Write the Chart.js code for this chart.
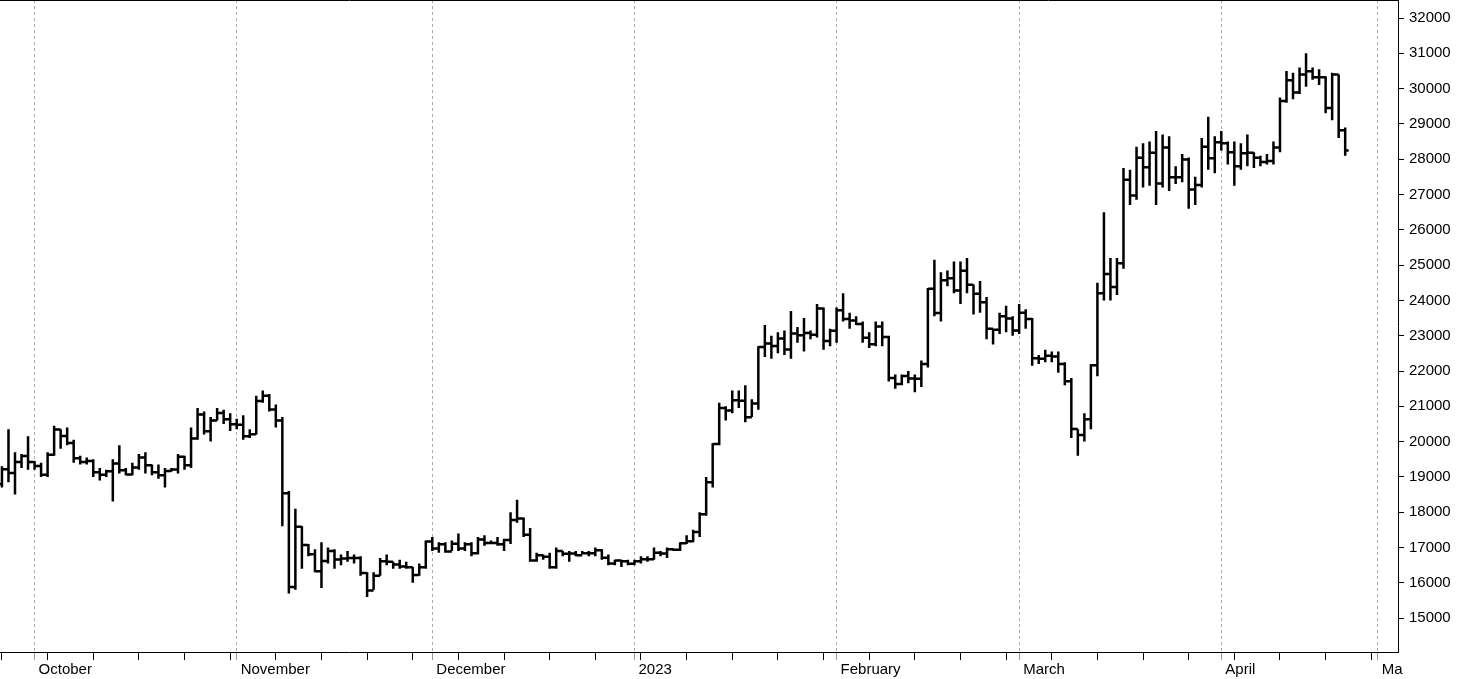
<!DOCTYPE html>
<html>
<head>
<meta charset="utf-8">
<script src="https://cdn.jsdelivr.net/npm/chart.js@4"></script>
<style>
  html, body { margin: 0; padding: 0; background: #fff; overflow: hidden; }
  #wrap { width: 1476px; height: 693px; margin-top: -14px; }
</style>
</head>
<body>
<div id="wrap"><canvas id="c"></canvas></div>
<script>
// daily bars, index 0 = 26 Sep 2022
const firstOpen = 18800;
const closes = [
  19220,19110,19420,19590,19420,
  19310,19060,19630,20340,20160,19960,19530,19420,19450,19130,19060,19160,19380,19190,19070,19270,19550,19330,19130,19050,19170,19210,19570,19330,20090,20770,20290,20600,20810,20630,20490,
  20480,20150,20210,21150,21300,20910,20600,18540,15880,17590,17070,16810,16330,16620,16900,16660,16690,16700,16700,16280,15780,16200,16610,16600,16520,16460,16440,16220,16440,17170,
  16970,17090,16890,17110,16970,17090,16840,17230,17130,17130,17090,17210,17780,17820,17360,16630,16780,16740,16440,16900,16820,16830,16780,16840,16840,16920,16710,16550,16630,16610,16540,
  16610,16670,16670,16850,16830,16950,16940,17120,17180,17440,17940,18850,19930,20950,20880,21170,21160,20690,21080,22680,22780,22710,22920,22610,23060,23010,23080,23030,23770,22850,23140,
  23720,23470,23430,23330,22940,22760,23260,22960,21800,21630,21860,21790,21780,22200,24330,23640,24570,24630,24280,24840,24440,24190,23950,23200,23170,23550,23490,23150,
  23650,23470,22360,22350,22430,22410,22200,21710,20360,20190,20630,22160,24200,24750,24380,25050,27420,26970,28040,27770,28180,27310,28330,27490,27490,27990,27140,27270,28350,28030,28480,
  28450,28200,27800,28170,28180,28040,27920,27950,28330,29650,30240,29890,30400,30490,30320,30320,29450,30400,28820,28250
];
const highs = [
  19300,20350,19700,19650,20150,
  19450,19400,19700,20450,20350,20400,20050,19600,19550,19500,19250,19200,19500,19900,19250,19400,19650,19700,19350,19350,19250,19250,19650,19600,20400,20950,20850,20700,20950,20900,20800,
  20650,20750,20350,21300,21450,21350,21050,20700,18600,18100,17600,17100,16950,17150,17000,16950,16800,16900,16800,16750,16300,16300,16700,16800,16600,16650,16600,16450,16550,17200,
  17300,17150,17150,17200,17400,17150,17150,17300,17350,17200,17300,17250,18000,18350,17850,17550,16850,16800,16850,17000,16900,16900,16900,16900,16900,17000,16950,16800,16650,16650,16650,
  16650,16750,16750,17000,16900,17000,16950,17150,17350,17500,18000,19000,19950,21100,21000,21450,21450,21600,21200,22700,23300,23000,23100,23150,23700,23250,23500,23150,23900,23800,23200,
  23800,24200,23650,23550,23400,23100,23400,23400,23000,21900,21900,22000,21900,22300,24350,25150,24800,24850,25100,25100,25200,24450,24550,24100,23200,23650,23850,23550,
  23900,23750,23500,22450,22600,22550,22550,22250,21800,20350,20800,22200,24500,26500,25200,25200,27750,27700,28350,28450,28500,28800,28700,28650,27800,28150,28050,27500,28600,29200,28650,
  28800,28500,28500,28450,28700,28200,28100,28150,28500,29750,30500,30450,30600,31000,30600,30550,30350,30450,30400,28900
];
const lows = [
  18700,18850,18500,19250,19200,
  19200,19000,19000,19600,19800,19900,19400,19350,19350,19000,18900,19000,18300,19100,19050,19050,19200,19100,19050,18950,18700,19150,19100,19200,19250,20050,20200,20000,20600,20500,20300,
  20350,20050,20100,20200,21100,20850,20400,17600,15700,15800,16400,16750,16300,15850,16550,16400,16500,16600,16550,16200,15600,15800,16200,16500,16400,16400,16400,16000,16200,16400,
  16900,16850,16850,16900,16900,16900,16750,16800,17050,17100,17050,16900,17100,17700,17300,16600,16600,16650,16400,16400,16750,16600,16750,16800,16750,16750,16650,16500,16500,16450,16500,
  16500,16550,16600,16650,16750,16700,16900,16900,17100,17150,17300,17900,18700,19900,20600,20800,20950,20550,20700,20900,22400,22350,22500,22450,22350,22800,22550,22900,22950,22600,22700,
  22800,23400,23200,23300,22800,22650,22700,22700,21700,21500,21600,21650,21400,21550,22100,23550,23400,24400,24200,23900,24200,23600,23650,22900,22750,23050,23100,23000,
  23050,23200,22150,22200,22250,22250,21950,21600,20100,19600,20000,20350,21850,24000,24000,24150,24900,26700,26850,27200,27250,26700,27200,27100,27300,27350,26600,26700,27200,27700,27600,
  28250,27850,27250,27700,27800,27750,27800,27850,27850,28200,29600,29700,29850,30050,30250,30100,29300,29100,28600,28100
];
const monthIdx = [5, 36, 66, 97, 128, 156, 187, 211];
const monthLabels = ['October', 'November', 'December', '2023', 'February', 'March', 'April', 'Ma'];
const yMin = 14040, yMax = 32510;

const opens = closes.map((c, i) => i === 0 ? firstOpen : closes[i - 1]);
const idx = closes.map((_, i) => i);

const ohlcPlugin = {
  id: 'ohlc',
  afterDatasetsDraw(chart) {
    const ctx = chart.ctx, x = chart.scales.x, y = chart.scales.y, a = chart.chartArea;
    ctx.save();
    ctx.beginPath(); ctx.rect(a.left, a.top, a.right - a.left, a.bottom - a.top); ctx.clip();
    ctx.strokeStyle = '#000';
    ctx.lineWidth = 2.5;
    ctx.lineCap = 'butt';
    idx.forEach(i => {
      const px = x.getPixelForValue(i);
      ctx.beginPath();
      ctx.moveTo(px, y.getPixelForValue(highs[i]));
      ctx.lineTo(px, y.getPixelForValue(lows[i]));
      ctx.moveTo(px - 3.5, y.getPixelForValue(opens[i]));
      ctx.lineTo(px, y.getPixelForValue(opens[i]));
      ctx.moveTo(px, y.getPixelForValue(closes[i]));
      ctx.lineTo(px + 3.5, y.getPixelForValue(closes[i]));
      ctx.stroke();
    });
    ctx.restore();
    // frame: top and bottom lines
    ctx.save();
    ctx.strokeStyle = '#000'; ctx.lineWidth = 1;
    ctx.beginPath();
    ctx.moveTo(a.left, a.top + 0.5); ctx.lineTo(a.right, a.top + 0.5);
    ctx.moveTo(a.left, a.bottom + 0.5); ctx.lineTo(a.right, a.bottom + 0.5);
    ctx.stroke();
    ctx.restore();
  }
};

new Chart(document.getElementById('c'), {
  type: 'line',
  data: {
    datasets: [{
      data: idx.map(i => ({ x: i, y: closes[i] })),
      borderColor: 'transparent',
      pointRadius: 0
    }]
  },
  options: {
    responsive: true,
    maintainAspectRatio: false,
    animation: false,
    layout: { padding: 0 },
    plugins: { legend: { display: false }, tooltip: { enabled: false } },
    scales: {
      x: {
        type: 'linear',
        min: -0.3,
        max: 214.1,
        afterFit: s => { s.height = 27; },
        afterBuildTicks: s => {
          const t = [];
          for (let i = 0; i < 215; i += 7) t.push({ value: i });
          monthIdx.forEach(m => t.push({ value: m }));
          t.sort((p, q) => p.value - q.value);
          s.ticks = t;
        },
        border: { display: false, dash: [3, 3] },
        grid: {
          color: c => monthIdx.includes(c.tick && c.tick.value) ? '#aaa' : 'transparent',
          tickColor: c => monthIdx.includes(c.tick && c.tick.value) ? '#999' : '#000',
          tickLength: 8
        },
        ticks: {
          autoSkip: false,
          maxRotation: 0,
          align: 'start',
          labelOffset: 4,
          padding: 1,
          color: '#000',
          font: { family: 'Arial, Liberation Sans', size: 15 },
          callback: v => {
            const k = monthIdx.indexOf(v);
            return k >= 0 ? monthLabels[k] : '';
          }
        }
      },
      y: {
        position: 'right',
        min: yMin,
        max: yMax,
        afterFit: s => { s.width = 78; },
        afterBuildTicks: s => {
          const t = [];
          for (let v = 15000; v <= 32000; v += 1000) t.push({ value: v });
          s.ticks = t;
        },
        border: { color: '#000', width: 1 },
        grid: { drawOnChartArea: false, tickLength: 6, tickColor: '#000' },
        ticks: {
          padding: 5,
          color: '#000',
          font: { family: 'Arial, Liberation Sans', size: 15 },
          callback: v => String(v)
        }
      }
    }
  },
  plugins: [ohlcPlugin]
});
</script>
</body>
</html>
